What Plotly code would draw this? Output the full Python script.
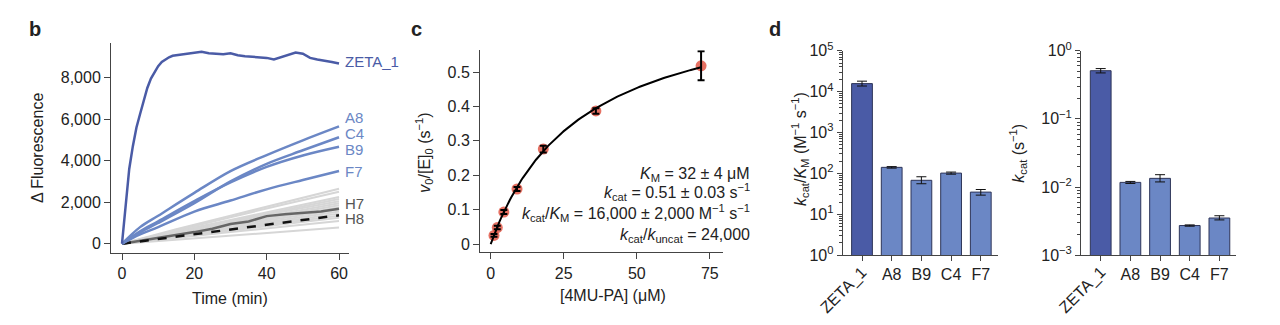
import plotly.graph_objects as go

W, H = 1280, 325
def px(x): return x / W
def py(y): return 1 - y / H

FONT = "Liberation Sans, Arial, Helvetica, sans-serif"
DARK_BLUE = "#4a5ba6"
LIGHT_BLUE = "#6b87c5"
GREY = "#d6d6d6"
TXT = "#222222"
AX = "#444444"

# ---------------- panel b data ----------------
t_zeta = [0, 1, 2, 3, 4, 5, 6, 7, 8, 9, 10, 11, 12, 13, 14, 16, 18, 20, 22, 24, 26, 28, 30,
          32, 34, 36, 38, 40, 42, 44, 46, 48, 50, 52, 54, 56, 58, 60]
zeta_1 = [0, 2000, 3600, 4700, 5600, 6250, 6900, 7500, 7950, 8250, 8550, 8750, 8880, 8980,
          9050, 9100, 9130, 9200, 9240, 9170, 9150, 9130, 9170, 9080, 9030, 9000, 8990, 8950,
          8870, 8980, 9120, 9210, 9150, 8950, 8870, 8820, 8750, 8680]

t_var = [0, 5, 10, 20, 30, 40, 50, 60]
a8 = [0, 800, 1350, 2450, 3500, 4270, 4980, 5650]
c4 = [0, 550, 1000, 1950, 3000, 3850, 4500, 5130]
b9 = [0, 600, 1080, 2050, 2950, 3700, 4250, 4670]
f7 = [0, 450, 800, 1550, 2080, 2620, 3070, 3500]

t_bg = [0, 15, 30, 45, 60]
background = [
    [0, 700, 1350, 2000, 2650],
    [0, 650, 1280, 1900, 2500],
    [0, 600, 1150, 1700, 2250],
    [0, 560, 1100, 1620, 2150],
    [0, 540, 1050, 1560, 2050],
    [0, 520, 1000, 1480, 1950],
    [0, 490, 950, 1400, 1850],
    [0, 460, 900, 1330, 1750],
    [0, 430, 850, 1250, 1650],
    [0, 400, 790, 1170, 1550],
    [0, 380, 740, 1100, 1450],
    [0, 350, 690, 1020, 1350],
    [0, 330, 640, 950, 1250],
    [0, 290, 560, 830, 1100],
    [0, 200, 400, 590, 780],
]

t_h7 = [0, 10, 20, 25, 30, 35, 40, 45, 50, 55, 60]
h7 = [0, 270, 560, 720, 950, 1070, 1330, 1420, 1500, 1550, 1680]
t_h8 = [0, 20, 40, 60]
h8 = [0, 450, 930, 1370]

b_labels = ["ZETA_1", "A8", "C4", "B9", "F7", "H7", "H8"]
b_label_y = [8770, 6080, 5310, 4540, 3480, 1960, 1200]

# ---------------- panel c data ----------------
conc = [1.125, 2.25, 4.5, 9, 18, 36, 72]
rate = [0.025, 0.048, 0.093, 0.160, 0.276, 0.387, 0.518]
rate_err = [0.004, 0.005, 0.006, 0.006, 0.010, 0.008, 0.042]
KM_FIT = 31.0
VMAX_FIT = 0.735

# ---------------- panel d data ----------------
variants = ["ZETA_1", "A8", "B9", "C4", "F7"]
kcat_km = [15700, 141, 68, 102, 35]
kcat_km_hi = [18000, 147, 83, 108, 40.5]
kcat_km_lo = [13700, 135, 56, 96, 29.5]
kcat = [0.509, 0.01172, 0.01343, 0.00273, 0.00352]
kcat_hi = [0.547, 0.0121, 0.0152, 0.00279, 0.0038]
kcat_lo = [0.472, 0.0113, 0.0119, 0.00267, 0.0033]

fig = go.Figure()

# panel b traces
for series in background:
    fig.add_trace(go.Scatter(x=t_bg, y=series, mode="lines", line=dict(color=GREY, width=2),
                             xaxis="x", yaxis="y", hoverinfo="skip"))
fig.add_trace(go.Scatter(x=t_h7, y=h7, mode="lines", line=dict(color="#666666", width=2.5),
                         xaxis="x", yaxis="y"))
fig.add_trace(go.Scatter(x=t_h8, y=h8, mode="lines", line=dict(color="#111111", width=2.5, dash="dash"),
                         xaxis="x", yaxis="y"))
for ys in [f7, b9, c4, a8]:
    fig.add_trace(go.Scatter(x=t_var, y=ys, mode="lines", line=dict(color=LIGHT_BLUE, width=2.5, shape="spline"),
                             xaxis="x", yaxis="y"))
fig.add_trace(go.Scatter(x=t_zeta, y=zeta_1, mode="lines", line=dict(color=DARK_BLUE, width=2.5),
                         xaxis="x", yaxis="y"))

# panel c traces
fig.add_trace(go.Scatter(x=conc, y=rate, mode="markers",
                         marker=dict(color="rgba(226,88,72,0.85)", size=11, line=dict(width=0)),
                         xaxis="x2", yaxis="y2"))
x_fit = [i * 0.5 for i in range(0, 145)]
y_fit = [VMAX_FIT * x / (KM_FIT + x) for x in x_fit]
fig.add_trace(go.Scatter(x=x_fit, y=y_fit, mode="lines", line=dict(color="black", width=2),
                         xaxis="x2", yaxis="y2"))
fig.add_trace(go.Scatter(x=conc, y=rate, mode="markers", marker=dict(size=1, color="rgba(0,0,0,0)"),
                         error_y=dict(type="data", array=rate_err, color="black", thickness=2, width=3.5),
                         xaxis="x2", yaxis="y2"))

# panel d traces
bar_colors = [DARK_BLUE] + [LIGHT_BLUE] * 4
fig.add_trace(go.Bar(x=variants, y=kcat_km, width=0.7,
                     marker=dict(color=bar_colors, line=dict(color="#2e3558", width=1)),
                     error_y=dict(type="data", symmetric=False,
                                  array=[h - v for h, v in zip(kcat_km_hi, kcat_km)],
                                  arrayminus=[v - l for v, l in zip(kcat_km, kcat_km_lo)],
                                  color="#111111", thickness=1, width=5),
                     xaxis="x3", yaxis="y3"))
fig.add_trace(go.Bar(x=variants, y=kcat, width=0.7,
                     marker=dict(color=bar_colors, line=dict(color="#2e3558", width=1)),
                     error_y=dict(type="data", symmetric=False,
                                  array=[h - v for h, v in zip(kcat_hi, kcat)],
                                  arrayminus=[v - l for v, l in zip(kcat, kcat_lo)],
                                  color="#111111", thickness=1, width=5),
                     xaxis="x4", yaxis="y4"))

tickfont = dict(family=FONT, size=16, color=TXT)
axis_common = dict(showline=True, linecolor=AX, linewidth=1, ticks="outside", ticklen=6,
                   tickwidth=1, tickcolor=AX, showgrid=False, zeroline=False, tickfont=tickfont)

log_labels_left = ["10<sup>0</sup>", "10<sup>1</sup>", "10<sup>2</sup>", "10<sup>3</sup>",
                   "10<sup>4</sup>", "10<sup>5</sup>"]
log_labels_right = ["10<sup>−3</sup>", "10<sup>−2</sup>", "10<sup>−1</sup>", "10<sup>0</sup>"]

fig.update_layout(
    width=W, height=H, margin=dict(l=0, r=0, t=0, b=0),
    paper_bgcolor="white", plot_bgcolor="white", showlegend=False,
    font=dict(family=FONT, size=16, color=TXT),
    xaxis=dict(domain=[px(111), px(349)], range=[-3.04, 62.76], anchor="y",
               tickvals=[0, 20, 40, 60], **axis_common),
    yaxis=dict(domain=[py(258), py(34)], range=[-452, 9672], anchor="x",
               tickvals=[0, 2000, 4000, 6000, 8000], tickformat=",d", **axis_common),
    xaxis2=dict(domain=[px(480), px(723)], range=[-3.66, 79.5], anchor="y2",
                tickvals=[0, 25, 50, 75], **axis_common),
    yaxis2=dict(domain=[py(257.3), py(41.7)], range=[-0.0245, 0.5636], anchor="x2",
                tickvals=[0, 0.1, 0.2, 0.3, 0.4, 0.5], ticktext=["0", "0.1", "0.2", "0.3", "0.4", "0.5"],
                **axis_common),
    xaxis3=dict(domain=[px(842.7), px(998)], range=[-0.65, 4.58], anchor="y3", type="category",
                tickvals=variants, ticktext=[""] + variants[1:], **{**axis_common, "ticklen": 5}),
    yaxis3=dict(domain=[py(260.3), py(42.3)], type="log", range=[0, 5], anchor="x3",
                tickvals=[1, 10, 100, 1000, 10000, 100000], ticktext=log_labels_left,
                minor=dict(ticks="outside", ticklen=3, tickcolor=AX, dtick="D1"),
                **{**axis_common, "ticklen": 5}),
    xaxis4=dict(domain=[px(1081), px(1236)], range=[-0.664, 4.56], anchor="y4", type="category",
                tickvals=variants, ticktext=[""] + variants[1:], **{**axis_common, "ticklen": 5}),
    yaxis4=dict(domain=[py(260.3), py(42.3)], type="log", range=[-3, 0], anchor="x4",
                tickvals=[0.001, 0.01, 0.1, 1], ticktext=log_labels_right,
                minor=dict(ticks="outside", ticklen=3, tickcolor=AX, dtick="D1"),
                **{**axis_common, "ticklen": 5}),
)

ann = []
def add_text(text, x, y, size=16, angle=0, xanchor="center", yanchor="middle", color=TXT, **kw):
    ann.append(dict(text=text, x=x, y=y, xref=kw.pop("xref", "paper"), yref=kw.pop("yref", "paper"),
                    showarrow=False, textangle=angle, xanchor=xanchor, yanchor=yanchor,
                    font=dict(family=FONT, size=size, color=color), **kw))

# panel letters
add_text("<b>b</b>", px(35), py(19), size=20)
add_text("<b>c</b>", px(416), py(19), size=20)
add_text("<b>d</b>", px(775), py(19), size=20)

# axis titles
add_text("Time (min)", px(230), py(306))
add_text("Δ Fluorescence", px(37), py(146), angle=-90)
add_text("[4MU-PA] (μM)", px(613), py(303))
add_text("<i>v</i><sub>0</sub>/[E]<sub>0</sub> (s<sup>−1</sup>)", px(424), py(151), angle=-90)
add_text("<i>k</i><sub>cat</sub>/<i>K</i><sub>M</sub> (M<sup>−1</sup> s<sup>−1</sup>)", px(800), py(147), angle=-90)
add_text("<i>k</i><sub>cat</sub> (s<sup>−1</sup>)", px(1018), py(152), angle=-90)

# panel b line labels
for lab, yv in zip(b_labels, b_label_y):
    col = DARK_BLUE if lab == "ZETA_1" else (LIGHT_BLUE if lab in ("A8", "C4", "B9", "F7") else "#555555")
    add_text(lab, 61.0, yv, size=15, xanchor="left", color=col, xref="x", yref="y")

# panel c parameter text
right_x = px(752)
add_text("<i>K</i><sub>M</sub> = 32 ± 4 μM", right_x, py(174), xanchor="right")
add_text("<i>k</i><sub>cat</sub> = 0.51 ± 0.03 s<sup>−1</sup>", right_x, py(193), xanchor="right")
add_text("<i>k</i><sub>cat</sub>/<i>K</i><sub>M</sub> = 16,000 ± 2,000 M<sup>−1</sup> s<sup>−1</sup>",
         right_x, py(215), xanchor="right")
add_text("<i>k</i><sub>cat</sub>/<i>k</i><sub>uncat</sub> = 24,000", right_x, py(239), xanchor="right")

# rotated ZETA_1 labels in panel d
add_text("ZETA_1", "ZETA_1", py(297.5), angle=-45, xref="x3", xshift=-18)
add_text("ZETA_1", "ZETA_1", py(297.5), angle=-45, xref="x4", xshift=-18)

fig.update_layout(annotations=ann)
fig.write_html("out.html")
